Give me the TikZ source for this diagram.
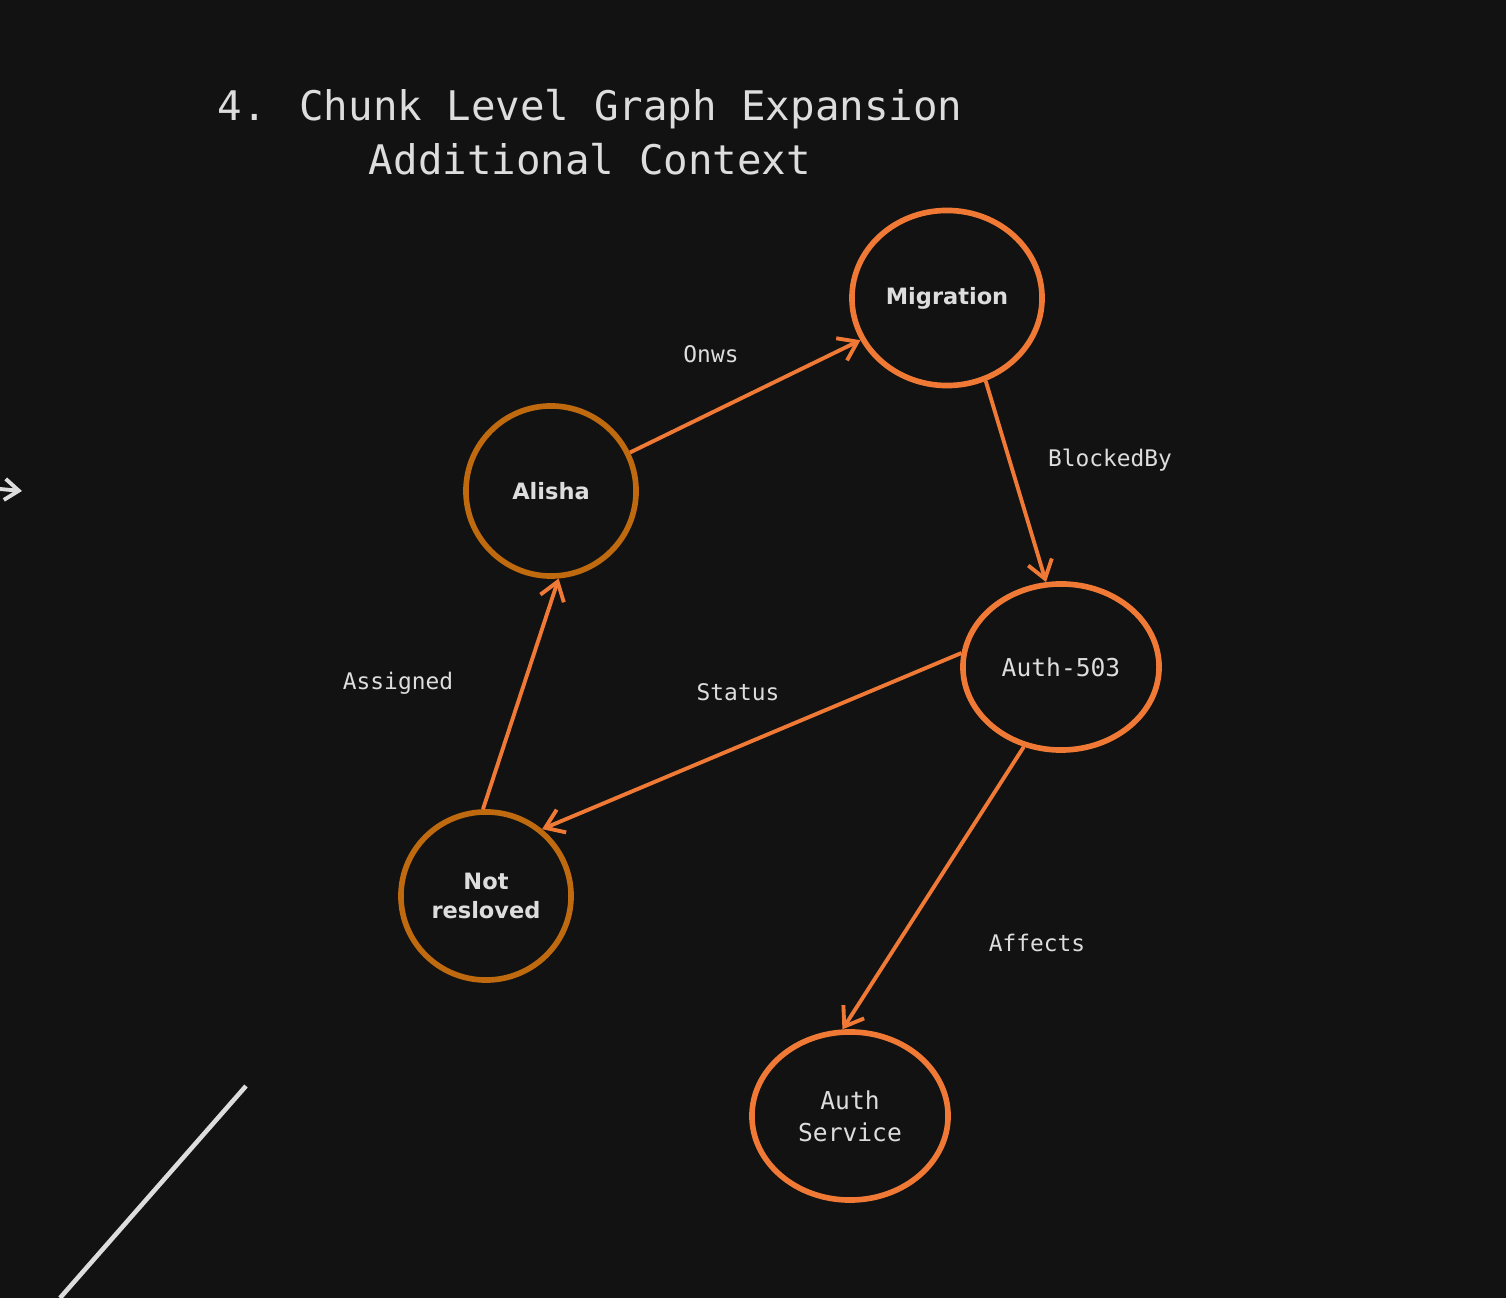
\documentclass[tikz,border=0pt]{standalone}
\usepackage{fontspec}
\setmainfont{DejaVu Sans Mono}
\newfontfamily\boldsans{DejaVu Sans}
\usepackage{xcolor}
\usetikzlibrary{shapes.geometric,arrows.meta,positioning}
\definecolor{bgdark}{HTML}{121212}
\definecolor{edgeor}{HTML}{F07A35}
\definecolor{darkor}{HTML}{C06A10}
\definecolor{txtgray}{HTML}{DDDDDD}
\tikzset{
  ent/.style = {ellipse, draw=edgeor, line width=1.6pt, inner sep=0pt, text=txtgray, align=center, font=\fontsize{7}{9}\selectfont},
  ent_b/.style = {ent, font=\boldsans\bfseries\fontsize{6.4}{8.3}\selectfont},
  ent_d/.style = {ent_b, draw=darkor},
  rel/.style = {draw=edgeor, line width=1.1pt, -{Straight Barb[length=5pt,width=7pt]}},
  rlabel/.style = {text=txtgray, font=\fontsize{6.5}{8}\selectfont}
}
\begin{document}
\begin{tikzpicture}[x=0.01cm,y=-0.01cm]
  \fill[bgdark] (0,0) rectangle (1506,1298);
  \useasboundingbox (0,0) rectangle (1506,1298);
  % title
  \node[text=txtgray, align=center, font=\fontsize{11.6}{15.5}\selectfont] (title) at (590,132)
    {4. Chunk Level Graph Expansion\\Additional Context};
  % entities
  \node[ent_b, minimum width=1.9cm, minimum height=1.75cm] (mig) at (947,298) {Migration};
  \node[ent_d, minimum width=1.7cm, minimum height=1.7cm] (ali) at (551,491) {Alisha};
  \node[ent, minimum width=1.96cm, minimum height=1.66cm] (auth) at (1061,667) {Auth-503};
  \node[ent_d, minimum width=1.7cm, minimum height=1.68cm] (nr) at (486,896) {Not\\resloved};
  \node[ent, minimum width=1.96cm, minimum height=1.68cm] (svc) at (850,1116) {Auth\\Service};
  % relations
  \draw[rel] (ali) -- (mig);
  \draw[rel] (mig.-65) -- (auth.100);
  \draw[rel] (auth.172) -- (nr.50);
  \draw[rel] (nr.92) -- (ali.-85);
  \draw[rel] (auth.-115) -- (svc.95);
  \node[rlabel] (l1) at (711,354) {Onws};
  \node[rlabel] (l2) at (1110,460) {BlockedBy};
  \node[rlabel] (l3) at (738,692) {Status};
  \node[rlabel] (l4) at (398,683) {Assigned};
  \node[rlabel] (l5) at (1037,943) {Affects};
  % stray strokes
  \coordinate (sa) at (0,489);
  \coordinate (sb) at (22,491);
  \draw[txtgray, line width=1.1pt, -{Straight Barb[length=4pt,width=6pt]}] (sa) -- (sb);
  \coordinate (da) at (246,1086);
  \coordinate (db) at (60,1298);
  \draw[txtgray, line width=1.3pt] (da) -- (db);
\end{tikzpicture}
\end{document}
